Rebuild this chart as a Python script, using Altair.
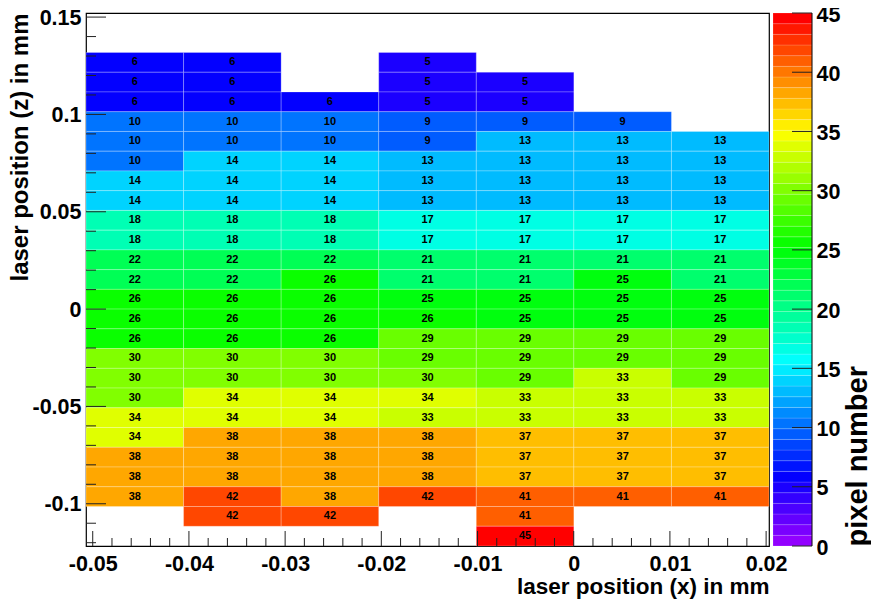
import colorsys
import altair as alt
import pandas as pd

# ---------------- data ----------------
x_range = [-0.0507, 0.0203]   # histogram x range (7 bins)
y_range = [-0.1217, 0.1521]   # histogram y range (27 bins)
n_x_bins = 7
n_y_bins = 27

# pixel numbers, one list per row of bins, from the top filled row (bin 24) down to bin 0
row_24 = [6, 6, None, 5, None, None, None]
row_23 = [6, 6, None, 5, 5, None, None]
row_22 = [6, 6, 6, 5, 5, None, None]
row_21 = [10, 10, 10, 9, 9, 9, None]
row_20 = [10, 10, 10, 9, 13, 13, 13]
row_19 = [10, 14, 14, 13, 13, 13, 13]
row_18 = [14, 14, 14, 13, 13, 13, 13]
row_17 = [14, 14, 14, 13, 13, 13, 13]
row_16 = [18, 18, 18, 17, 17, 17, 17]
row_15 = [18, 18, 18, 17, 17, 17, 17]
row_14 = [22, 22, 22, 21, 21, 21, 21]
row_13 = [22, 22, 26, 21, 21, 25, 21]
row_12 = [26, 26, 26, 25, 25, 25, 25]
row_11 = [26, 26, 26, 26, 25, 25, 25]
row_10 = [26, 26, 26, 29, 29, 29, 29]
row_09 = [30, 30, 30, 29, 29, 29, 29]
row_08 = [30, 30, 30, 30, 29, 33, 29]
row_07 = [30, 34, 34, 34, 33, 33, 33]
row_06 = [34, 34, 34, 33, 33, 33, 33]
row_05 = [34, 38, 38, 38, 37, 37, 37]
row_04 = [38, 38, 38, 38, 37, 37, 37]
row_03 = [38, 38, 38, 38, 37, 37, 37]
row_02 = [38, 42, 38, 42, 41, 41, 41]
row_01 = [None, 42, 42, None, 41, None, None]
row_00 = [None, None, None, None, 45, None, None]

rows_top_down = [row_24, row_23, row_22, row_21, row_20, row_19, row_18, row_17,
                 row_16, row_15, row_14, row_13, row_12, row_11, row_10, row_09,
                 row_08, row_07, row_06, row_05, row_04, row_03, row_02, row_01, row_00]

x_tick_labels = [-0.05, -0.04, -0.03, -0.02, -0.01, 0, 0.01, 0.02]
y_tick_labels = [-0.1, -0.05, 0, 0.05, 0.1, 0.15]
z_tick_labels = [0, 5, 10, 15, 20, 25, 30, 35, 40, 45]
z_range = [0, 45]

# ---------------- styling helpers ----------------
FONT = "Liberation Sans"
# ROOT "pretty palette": 50 colours, violet -> red (HLS, l=0.5, s=1)
palette = []
for i in range(50):
    hue = 280 - (i + 1) * (280 / 50)
    r, g, b = colorsys.hls_to_rgb(hue / 360.0, 0.5, 1.0)
    palette.append("#%02x%02x%02x" % (round(r * 255), round(g * 255), round(b * 255)))

x_minor = [round(-0.05 + 0.002 * i, 3) for i in range(36) if i % 5 != 0]
y_minor = [round(-0.12 + 0.01 * i, 2) for i in range(28) if round(-0.12 + 0.01 * i, 2) not in y_tick_labels]

bx = (x_range[1] - x_range[0]) / n_x_bins
by = (y_range[1] - y_range[0]) / n_y_bins

recs = []
n_rows = len(rows_top_down)
for ri, row in enumerate(rows_top_down):
    k = n_rows - 1 - ri
    for c, v in enumerate(row):
        if v is None:
            continue
        x0 = x_range[0] + c * bx
        y0 = y_range[0] + k * by
        recs.append({"x0": x0, "x1": x0 + bx, "xc": x0 + bx / 2,
                     "y0": y0, "y1": y0 + by, "yc": y0 + by / 2, "v": v})
cells = pd.DataFrame(recs)

W, H = 683, 533
CB_X0, CB_X1 = W + 4, W + 43      # colour bar, in pixels right of the frame

color_scale = alt.Scale(type="quantize", domain=z_range, range=palette)
xscale = alt.Scale(domain=x_range, nice=False, zero=False)
yscale = alt.Scale(domain=y_range, nice=False, zero=False)

x_axis = alt.Axis(values=x_tick_labels, labelExpr="datum.value + ''", tickSize=0, domain=False,
                  grid=False, labelFont=FONT, labelFontWeight="bold", labelFontSize=21.5,
                  labelColor="black", labelPadding=7, labelFlush=False, labelOverlap=False,
                  title="laser position (x) in mm", titleFont=FONT, titleFontWeight="bold",
                  titleFontSize=22.5, titleColor="black", titleAnchor="end", titlePadding=1)
y_axis = alt.Axis(values=y_tick_labels, labelExpr="datum.value + ''", tickSize=0, domain=False,
                  grid=False, labelFont=FONT, labelFontWeight="bold", labelFontSize=21.5,
                  labelColor="black", labelPadding=5, labelOffset=1, labelFlush=False,
                  labelOverlap=False,
                  title="laser position (z) in mm", titleFont=FONT, titleFontWeight="bold",
                  titleFontSize=24, titleColor="black", titleAnchor="end", titlePadding=-1)

X = lambda f: alt.X(f, type="quantitative", scale=xscale, axis=x_axis)
Y = lambda f: alt.Y(f, type="quantitative", scale=yscale, axis=y_axis)

heat = alt.Chart(cells).mark_rect(stroke="white", strokeOpacity=0.35, strokeWidth=0.7).encode(
    x=X("x0"), x2="x1", y=Y("y0"), y2="y1",
    color=alt.Color("v:Q", scale=color_scale, legend=None),
)
labels = alt.Chart(cells).mark_text(font=FONT, fontWeight="bold", fontSize=11, color="black").encode(
    x=X("xc"), y=Y("yc"), text=alt.Text("v:Q"),
)

tick_color = "#222222"
xmaj = alt.Chart(pd.DataFrame({"t": x_tick_labels})).mark_rule(color=tick_color, strokeWidth=1).encode(
    x=X("t"), y=alt.value(H), y2=alt.value(H - 15))
xmin = alt.Chart(pd.DataFrame({"t": x_minor})).mark_rule(color=tick_color, strokeWidth=1).encode(
    x=X("t"), y=alt.value(H), y2=alt.value(H - 8))
ymaj = alt.Chart(pd.DataFrame({"t": y_tick_labels})).mark_rule(color=tick_color, strokeWidth=1).encode(
    y=Y("t"), x=alt.value(0), x2=alt.value(20))
ymin = alt.Chart(pd.DataFrame({"t": y_minor})).mark_rule(color=tick_color, strokeWidth=1).encode(
    y=Y("t"), x=alt.value(0), x2=alt.value(10))

main = alt.layer(heat, labels, xmaj, xmin, ymaj, ymin)

# colour bar (palette axis on the right)
step = (z_range[1] - z_range[0]) / len(palette)
bands = pd.DataFrame({
    "lo": [z_range[0] + i * step for i in range(len(palette))],
    "hi": [z_range[0] + (i + 1) * step for i in range(len(palette))],
    "mid": [z_range[0] + (i + 0.5) * step for i in range(len(palette))],
})
zscale = alt.Scale(domain=z_range, nice=False, zero=False)
z_axis = alt.Axis(values=z_tick_labels, orient="right", offset=CB_X1 - W, tickSize=0, domain=False,
                  grid=False, labelFont=FONT, labelFontWeight="bold", labelFontSize=21.5,
                  labelColor="black", labelPadding=4, labelOffset=2, labelFlush=False,
                  labelOverlap=False, title="pixel number", titleFont=FONT, titleFontWeight="bold",
                  titleFontSize=29, titleColor="black", titleAngle=270, titleBaseline="top",
                  titleAnchor="start", titlePadding=4)
Z = lambda f: alt.Y(f, type="quantitative", scale=zscale, axis=z_axis)

cb_rect = alt.Chart(bands).mark_rect(stroke="white", strokeOpacity=0.25, strokeWidth=0.6).encode(
    y=Z("lo"), y2="hi",
    x=alt.value(CB_X0), x2=alt.value(CB_X1),
    color=alt.Color("mid:Q", scale=color_scale, legend=None),
)
cb_ticks = alt.Chart(pd.DataFrame({"t": z_tick_labels})).mark_rule(color=tick_color, strokeWidth=1).encode(
    y=Z("t"), x=alt.value(CB_X1 - 20), x2=alt.value(CB_X1))
cb_line = alt.Chart(pd.DataFrame({"t": [z_range[0]], "t2": [z_range[1]]})).mark_rule(
    color="black", strokeWidth=1).encode(y=Z("t"), y2="t2", x=alt.value(CB_X1))

cbar = alt.layer(cb_rect, cb_ticks, cb_line)

chart = alt.layer(main, cbar).resolve_scale(y="independent").properties(
    width=W, height=H,
    autosize=alt.AutoSizeParams(type="none"),
    padding={"left": 78, "top": 5, "right": 102, "bottom": 55},
    background="white",
).configure_view(stroke="black", strokeWidth=1.2)

chart.save("out.html", embed_options={"renderer": "svg", "actions": False})
